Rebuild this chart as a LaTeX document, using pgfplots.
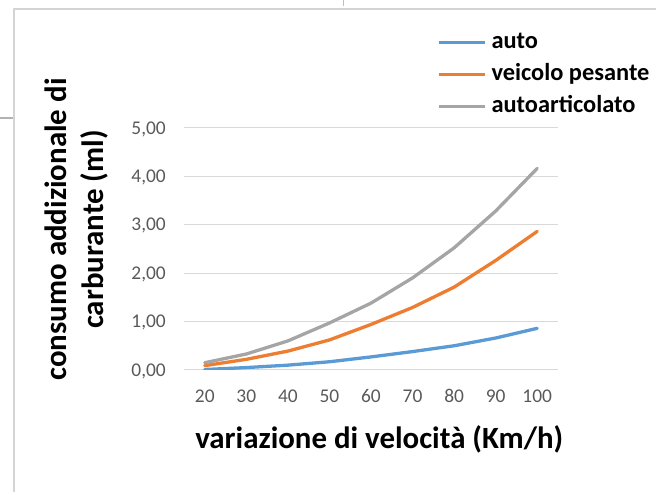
\documentclass[border=0pt]{standalone}
\usepackage{pgfplots}
\pgfplotsset{compat=1.18}
\usepackage{fontspec}
\setmainfont{Carlito}

\definecolor{serieblu}{HTML}{5B9BD5}
\definecolor{seriearancio}{HTML}{ED7D31}
\definecolor{seriegrigio}{HTML}{A5A5A5}
\definecolor{griglia}{HTML}{D9D9D9}
\definecolor{etichette}{HTML}{595959}
\definecolor{cornice}{HTML}{D4D4D4}

\begin{document}
\begin{tikzpicture}
\useasboundingbox (0,0) rectangle (656bp,492bp);
% chart frame
\draw[cornice, line width=1.5bp] (14bp,0) -- (14bp,483bp) -- (656bp,483bp);
\draw[black!30, line width=2.7bp] (0,374bp) -- (13bp,374bp);
\draw[black!25, line width=0.8bp] (343bp,486bp) -- (343bp,492bp);
\begin{axis}[
  at={(184bp,122bp)}, anchor=south west,
  scale only axis, width=374bp, height=242.3bp,
  xmin=15, xmax=105, ymin=0, ymax=5,
  xtick={20,30,...,100}, ytick={0,1,...,5},
  axis line style={draw=none}, tick style={draw=none}, major tick length=0pt,
  ymajorgrids, grid style={griglia, line width=1bp},
  /pgf/number format/assume math mode=true,
  ticklabel style={font=\fontsize{19.5}{20}\selectfont, text=etichette, inner sep=0pt},
  yticklabel style={/pgf/number format/.cd, fixed, fixed zerofill, precision=2, use comma, /tikz/.cd,
    anchor=base east, xshift=-18bp, yshift=-6.3bp},
  xticklabel style={anchor=base, yshift=-33bp},
  xlabel={variazione di velocità (Km/h)},
  xlabel style={at={(axis description cs:0.522,-0.322)}, anchor=base,
    font=\fontsize{31}{37}\selectfont\bfseries},
  ylabel={consumo addizionale di\\carburante (ml)},
  ylabel style={at={(axis description cs:-0.2874,0.58)}, anchor=center, align=center,
    font=\fontsize{31}{37}\selectfont\bfseries},
  every axis plot/.append style={line width=3.3bp, line join=round, line cap=round, no markers},
  legend style={at={(axis description cs:0.6765,1.399)}, anchor=north west,
    draw=none, fill=none, inner sep=0pt, row sep=10bp, column sep=5bp,
    font=\fontsize{24.5}{26}\selectfont\bfseries,
    nodes={inner sep=0pt, text height=17bp, text depth=5bp}},
  legend cell align=left,
  legend image code/.code={\draw[#1, line cap=butt] (0bp,0bp) -- (46bp,0bp);},
]
\addplot[serieblu] coordinates {(20,0.01) (30,0.05) (40,0.10) (50,0.17) (60,0.27) (70,0.38) (80,0.50) (90,0.66) (100,0.86)};
\addlegendentry{auto}
\addplot[seriearancio] coordinates {(20,0.09) (30,0.22) (40,0.39) (50,0.62) (60,0.94) (70,1.29) (80,1.71) (90,2.26) (100,2.86)};
\addlegendentry{veicolo pesante}
\addplot[seriegrigio] coordinates {(20,0.15) (30,0.33) (40,0.60) (50,0.97) (60,1.38) (70,1.90) (80,2.52) (90,3.28) (100,4.16)};
\addlegendentry{autoarticolato}
\end{axis}
\end{tikzpicture}
\end{document}
